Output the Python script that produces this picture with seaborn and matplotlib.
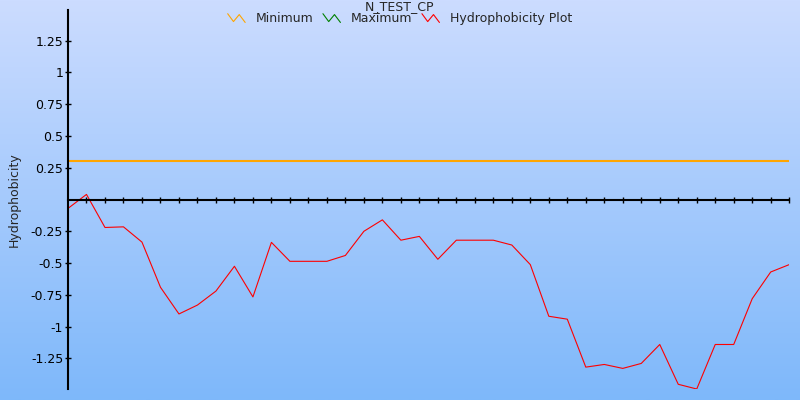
import numpy as np
import pandas as pd
import matplotlib
matplotlib.use("Agg")
import matplotlib.pyplot as plt
import seaborn as sns
from matplotlib.lines import Line2D
from matplotlib.legend_handler import HandlerBase

# hydrophobicity values, one per residue window
positions = list(range(40))
hydro = [-0.07, 0.04, -0.22, -0.215, -0.335, -0.69, -0.90, -0.83, -0.72, -0.525,
         -0.766, -0.337, -0.486, -0.486, -0.486, -0.44, -0.25, -0.16, -0.32, -0.29,
         -0.47, -0.32, -0.32, -0.32, -0.358, -0.512, -0.918, -0.941, -1.318, -1.297,
         -1.328, -1.289, -1.14, -1.453, -1.49, -1.14, -1.14, -0.78, -0.57, -0.512]
minimum = 0.30
ytick_vals = [-1.25, -1, -0.75, -0.5, -0.25, 0.25, 0.5, 0.75, 1, 1.25]
ytick_labels = ["-1.25", "-1", "-0.75", "-0.5", "-0.25", "0.25", "0.5", "0.75", "1", "1.25"]
legend_labels = ["Minimum", "Maximum", "Hydrophobicity Plot"]
legend_colors = ["orange", "green", "red"]

df = pd.DataFrame({"pos": positions, "hydro": hydro})

sns.set_style("ticks")
plt.rcParams["font.family"] = ["DejaVu Sans"]

fig = plt.figure(figsize=(8, 4), dpi=100)

# gradient background
bg = fig.add_axes([0, 0, 1, 1], zorder=-1)
top = np.array([204, 220, 255]) / 255
bot = np.array([126, 184, 250]) / 255
t = np.linspace(0, 1, 256)[:, None]
grad = top[None, :] * (1 - t) + bot[None, :] * t
bg.imshow(grad[:, None, :], aspect="auto", extent=[0, 1, 0, 1])
bg.axis("off")

ax = fig.add_axes([0.085, 0.0275, 0.9015, 0.9475])
ax.patch.set_alpha(0)

sns.lineplot(data=df, x="pos", y="hydro", color="red", lw=0.8, ax=ax)
ax.axhline(minimum, color="orange", lw=1.5)

ax.set_xlim(0, 39)
ax.set_ylim(-1.49, 1.49)
ax.spines["top"].set_visible(False)
ax.spines["right"].set_visible(False)
ax.spines["bottom"].set_position(("data", 0))
for s in ["bottom", "left"]:
    ax.spines[s].set_linewidth(1.5)
    ax.spines[s].set_color("black")

ax.set_xticks(positions[1:])
ax.set_xticklabels([])
ax.set_yticks(ytick_vals)
ax.set_yticklabels(ytick_labels, fontsize=9)
ax.tick_params(axis="both", direction="inout", length=5, width=1, colors="black",
               bottom=True, left=True)
ax.tick_params(axis="y", pad=1)
ax.set_xlabel("")
ax.set_ylabel("Hydrophobicity", fontsize=9)
ax.yaxis.set_label_coords(-0.066, 0.5)

fig.text(0.5, 0.999, "N_TEST_CP", ha="center", va="top", fontsize=9)


class ZigZag(HandlerBase):
    def create_artists(self, legend, orig, xd, yd, w, h, fontsize, trans):
        xs = np.array([0, 0.33, 0.66, 1.0]) * w - xd
        ys = np.array([1.0, 0.1, 0.9, 0.0]) * h - yd
        ln = Line2D(xs, ys, color=orig.get_color(), lw=0.8, transform=trans)
        return [ln]


handles = [Line2D([], [], color=c) for c in legend_colors]
fig.legend(handles, legend_labels, loc="upper center", bbox_to_anchor=(0.5, 0.997),
           ncol=3, frameon=False, fontsize=9, handlelength=1.4,
           handletextpad=0.85, columnspacing=0.75,
           handler_map={Line2D: ZigZag()})

fig.savefig("out.png", dpi=100)
